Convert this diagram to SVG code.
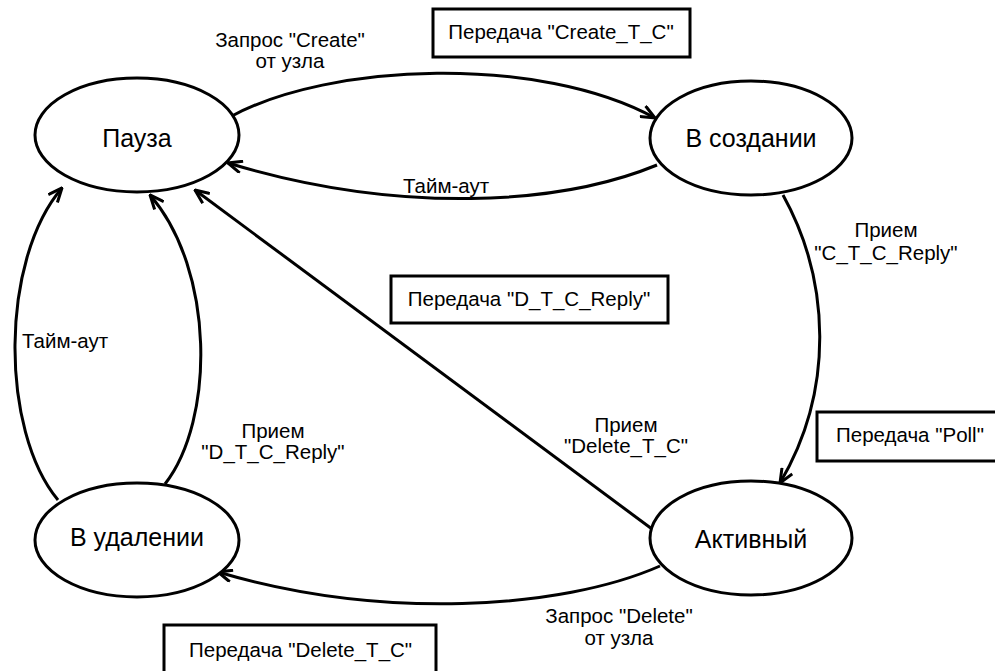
<svg xmlns="http://www.w3.org/2000/svg" width="995" height="671" viewBox="0 0 995 671">
<defs>
<style>
.st{fill:#fff;stroke:#000;stroke-width:3}
.bx{fill:#fff;stroke:#000;stroke-width:3}
.big{font-family:"Liberation Sans",Arial,sans-serif;font-size:25px;fill:#000;text-anchor:middle}
.lb{font-family:"Liberation Sans",Arial,sans-serif;font-size:20.5px;fill:#000}
.c{text-anchor:middle}
.ed{fill:none;stroke:#000;stroke-width:3}
</style>
<marker id="ar" viewBox="0 0 16 14" refX="15" refY="7" markerWidth="16" markerHeight="14" markerUnits="userSpaceOnUse" orient="auto">
<path d="M1,1 L15,7 L1,13" fill="none" stroke="#000" stroke-width="3"/>
</marker>
</defs>
<rect width="995" height="671" fill="#fff"/>
<g id="connectors">
<path class="ed" d="M230,117 C330,62 540,55 655,118" marker-end="url(#ar)"/>
<path class="ed" d="M657,165 C560,205 400,215 228,163" marker-end="url(#ar)"/>
<path class="ed" d="M783,195 C830,280 835,390 780,483" marker-end="url(#ar)"/>
<path class="ed" d="M652,529 L195,190" marker-end="url(#ar)"/>
<path class="ed" d="M660,566 C560,610 380,620 218,572" marker-end="url(#ar)"/>
<path class="ed" d="M58,500 C0,430 0,260 62,188" marker-end="url(#ar)"/>
<path class="ed" d="M165,484 C215,420 215,270 150,195" marker-end="url(#ar)"/>
</g>
<g id="labels">
<text class="lb c" x="290" y="47">Запрос "Create"</text>
<text class="lb c" x="290" y="68">от узла</text>
<text class="lb" x="403" y="193">Тайм-аут</text>
<text class="lb c" x="886" y="237">Прием</text>
<text class="lb c" x="886" y="260">"C_T_C_Reply"</text>
<text class="lb" x="22" y="348">Тайм-аут</text>
<text class="lb c" x="273" y="438">Прием</text>
<text class="lb c" x="273" y="459">"D_T_C_Reply"</text>
<text class="lb c" x="626" y="432">Прием</text>
<text class="lb c" x="626" y="453">"Delete_T_C"</text>
<text class="lb c" x="619" y="623">Запрос "Delete"</text>
<text class="lb c" x="619" y="645">от узла</text>
</g>
<g id="box-create">
<rect class="bx" x="433" y="9" width="257" height="48"/>
<text class="lb c" x="561" y="39">Передача "Create_T_C"</text>
</g>
<g id="box-dreply">
<rect class="bx" x="391" y="276" width="277" height="47"/>
<text class="lb c" x="529" y="306">Передача "D_T_C_Reply"</text>
</g>
<g id="box-poll">
<rect class="bx" x="817" y="412" width="190" height="49"/>
<text class="lb" x="836" y="442">Передача "Poll"</text>
</g>
<g id="box-delete">
<rect class="bx" x="164" y="625" width="272" height="60"/>
<text class="lb" x="189" y="657">Передача "Delete_T_C"</text>
</g>
<g id="pause">
<ellipse class="st" cx="137" cy="135" rx="102" ry="57"/>
<text class="big" x="137" y="147">Пауза</text>
</g>
<g id="creating">
<ellipse class="st" cx="751" cy="138" rx="101" ry="57"/>
<text class="big" x="751" y="147">В создании</text>
</g>
<g id="active">
<ellipse class="st" cx="751" cy="538" rx="101" ry="57"/>
<text class="big" x="751" y="548">Активный</text>
</g>
<g id="deleting">
<ellipse class="st" cx="137" cy="540" rx="102" ry="57"/>
<text class="big" x="137" y="546">В удалении</text>
</g>
</svg>
